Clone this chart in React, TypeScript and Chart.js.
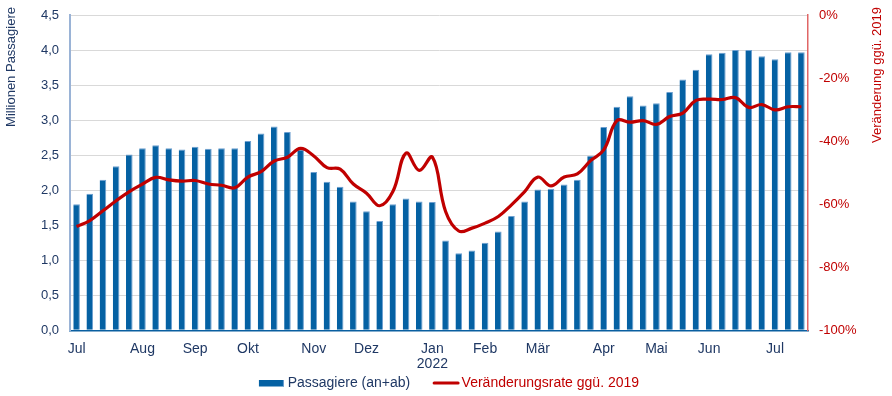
import { useEffect, useRef } from "react";
import { Chart, registerables } from "chart.js";

Chart.register(...registerables);

// Weekly values, July 2021 – July 2022
const passengers: number[] = [
  1.80, 1.95, 2.15, 2.34, 2.51, 2.60, 2.64, 2.60, 2.58, 2.62,
  2.59, 2.60, 2.60, 2.70, 2.81, 2.91, 2.83, 2.58, 2.26, 2.12,
  2.05, 1.84, 1.70, 1.56, 1.80, 1.88, 1.84, 1.83, 1.28, 1.10,
  1.14, 1.25, 1.41, 1.63, 1.84, 2.01, 2.02, 2.08, 2.15, 2.49,
  2.90, 3.19, 3.34, 3.21, 3.24, 3.40, 3.58, 3.72, 3.94, 3.96,
  4.00, 4.00, 3.91, 3.87, 3.97, 3.97,
];

const changeVs2019: number[] = [
  -67.1, -65.2, -62.1, -58.9, -56.0, -53.6, -51.5, -52.3, -52.7, -52.5,
  -53.6, -54.0, -54.8, -51.4, -49.7, -46.3, -45.1, -42.3, -44.7, -48.4,
  -48.9, -53.6, -56.5, -60.5, -56.0, -43.8, -49.3, -45.1, -62.3, -68.5,
  -67.6, -66.0, -63.9, -60.2, -56.0, -51.4, -54.2, -51.4, -50.4, -46.2,
  -42.8, -33.5, -34.0, -33.5, -34.7, -32.2, -31.1, -27.1, -26.7, -26.8,
  -26.2, -29.3, -28.4, -30.1, -29.1, -29.1,
];

const monthNames: (string | string[])[] = [
  "Jul", "Aug", "Sep", "Okt", "Nov", "Dez", ["Jan", "2022"],
  "Feb", "Mär", "Apr", "Mai", "Jun", "Jul",
];
const monthStartWeek: number[] = [0, 5, 9, 13, 18, 22, 27, 31, 35, 40, 44, 48, 53];

const weekLabels: (string | string[])[] = passengers.map((_, i) => {
  const m = monthStartWeek.indexOf(i);
  return m >= 0 ? monthNames[m] : "";
});

const seriesNames = ["Passagiere (an+ab)", "Veränderungsrate ggü. 2019"];
const leftTitle = "Millionen Passagiere";
const rightTitle = "Veränderung ggü. 2019";

const FONT = '"Liberation Sans", Arial, sans-serif';
const NAVY = "#1f3864";
const RED = "#c00000";
const BLUE = "#0561a3";

const decorPlugin = {
  id: "decor",
  afterDraw(chart: any) {
    const ctx: CanvasRenderingContext2D = chart.ctx;
    ctx.save();
    // Axis titles (both read bottom-to-top)
    ctx.font = `13px ${FONT}`;
    ctx.textBaseline = "middle";
    ctx.textAlign = "right";
    ctx.fillStyle = NAVY;
    ctx.save();
    ctx.translate(11.7, 7);
    ctx.rotate(-Math.PI / 2);
    ctx.fillText(leftTitle, 0, 0);
    ctx.restore();
    ctx.fillStyle = RED;
    ctx.save();
    ctx.translate(877.5, 7);
    ctx.rotate(-Math.PI / 2);
    ctx.fillText(rightTitle, 0, 0);
    ctx.restore();

    // Legend
    ctx.font = `14px ${FONT}`;
    ctx.textAlign = "left";
    ctx.textBaseline = "middle";
    const w1 = ctx.measureText(seriesNames[0]).width;
    const w2 = ctx.measureText(seriesNames[1]).width;
    const total = 25 + 3.7 + w1 + 22.4 + 27 + 2 + w2;
    let x = chart.width / 2 + 3 - total / 2;
    const yMid = 383;
    ctx.fillStyle = BLUE;
    ctx.fillRect(x, 380, 25, 6.5);
    ctx.fillStyle = "#6d9fd0";
    ctx.fillRect(x + 24, 380, 1, 6.5);
    x += 25 + 3.7;
    ctx.fillStyle = NAVY;
    ctx.fillText(seriesNames[0], x, yMid);
    x += w1 + 22.4;
    ctx.strokeStyle = RED;
    ctx.lineWidth = 3;
    ctx.lineCap = "round";
    ctx.beginPath();
    ctx.moveTo(x + 1.5, yMid);
    ctx.lineTo(x + 25.5, yMid);
    ctx.stroke();
    x += 27 + 2;
    ctx.fillStyle = RED;
    ctx.fillText(seriesNames[1], x, yMid);
    ctx.restore();
  },
};

export default function App() {
  const canvasRef = useRef<HTMLCanvasElement | null>(null);

  useEffect(() => {
    const canvas = canvasRef.current;
    if (!canvas) return;
    const chart = new Chart(canvas, {
      type: "bar",
      data: {
        labels: weekLabels,
        datasets: [
          {
            type: "line",
            label: seriesNames[1],
            data: changeVs2019,
            yAxisID: "y1",
            borderColor: RED,
            backgroundColor: RED,
            borderWidth: 3.2,
            pointRadius: 0,
            pointHoverRadius: 0,
            tension: 0.4,
            order: 0,
          } as any,
          {
            type: "bar",
            label: seriesNames[0],
            data: passengers,
            yAxisID: "y",
            backgroundColor: BLUE,
            borderColor: "#6d9fd0",
            borderWidth: { top: 1, right: 1, left: 0, bottom: 0 },
            borderSkipped: false,
            barPercentage: 1,
            categoryPercentage: 0.5,
            order: 1,
          } as any,
        ],
      },
      options: {
        responsive: false,
        animation: false,
        layout: { padding: { top: 15, left: 0, right: 0, bottom: 0 } },
        plugins: {
          legend: { display: false },
          tooltip: { enabled: false },
          title: { display: false },
        },
        scales: {
          x: {
            offset: true,
            grid: { display: false, drawTicks: false },
            border: { display: true, color: "#0a5fa0", width: 1.5 },
            ticks: {
              autoSkip: false,
              maxRotation: 0,
              minRotation: 0,
              padding: 11,
              color: NAVY,
              font: { family: FONT, size: 14, lineHeight: 1.07 },
            },
            afterFit: (s: any) => {
              s.height = 65.7;
            },
          },
          y: {
            position: "left",
            min: 0,
            max: 4.5,
            grid: {
              color: "#d9d9d9",
              lineWidth: 1,
              drawTicks: true,
              tickLength: 11,
              tickColor: "rgba(0,0,0,0)",
            },
            border: { display: true, color: "#9ab3d6", width: 2 },
            ticks: {
              stepSize: 0.5,
              padding: 0,
              color: NAVY,
              font: { family: FONT, size: 13 },
              callback: (v: any) => Number(v).toFixed(1).replace(".", ","),
            },
            afterFit: (s: any) => {
              s.width = 70;
            },
          },
          y1: {
            position: "right",
            min: -100,
            max: 0,
            grid: {
              drawOnChartArea: false,
              drawTicks: true,
              tickLength: 11,
              tickColor: "rgba(0,0,0,0)",
              color: "rgba(0,0,0,0)",
            },
            border: { display: true, color: "#e06666", width: 1.5 },
            ticks: {
              stepSize: 20,
              padding: 0,
              color: RED,
              font: { family: FONT, size: 13 },
              callback: (v: any) => `${v}%`,
            },
            afterFit: (s: any) => {
              s.width = 84;
            },
          },
        },
      },
      plugins: [decorPlugin],
    });
    return () => chart.destroy();
  }, []);

  return (
    <div
      style={{
        position: "fixed",
        left: 0,
        top: 0,
        width: 892,
        height: 396,
        background: "#ffffff",
      }}
    >
      <canvas ref={canvasRef} width={892} height={396} style={{ display: "block" }} />
    </div>
  );
}
